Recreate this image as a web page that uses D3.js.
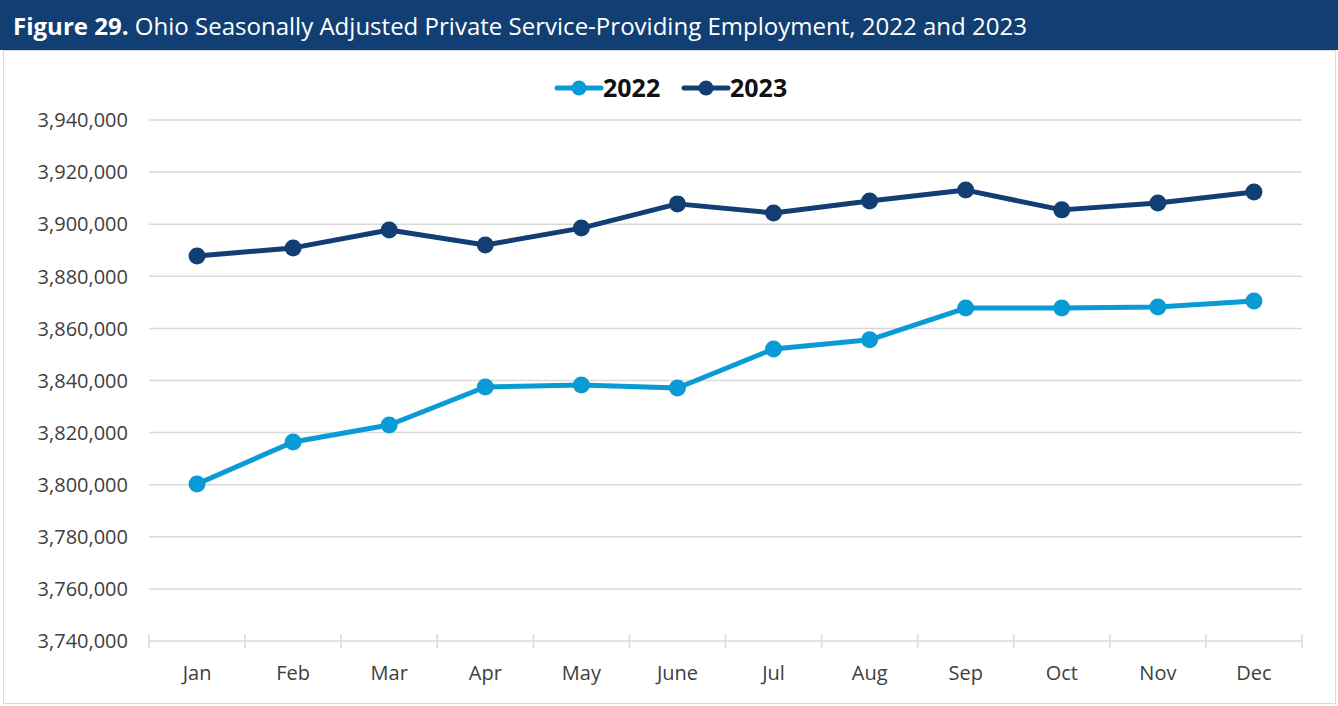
<!DOCTYPE html>
<html>
<head>
<meta charset="utf-8">
<script src="https://cdn.jsdelivr.net/npm/d3@7"></script>
<style>
  html, body { margin: 0; padding: 0; background: #ffffff; }
  svg { display: block; }
</style>
</head>
<body>
<svg id="chart" width="1338" height="706"></svg>
<script>
// Ohio seasonally adjusted private service-providing employment, by month
const months = ["Jan", "Feb", "Mar", "Apr", "May", "June", "Jul", "Aug", "Sep", "Oct", "Nov", "Dec"];
const values2022 = [3800300, 3816400, 3822900, 3837500, 3838300, 3837100, 3852100, 3855600, 3867800, 3867800, 3868200, 3870500];
const values2023 = [3887800, 3890900, 3897800, 3892000, 3898500, 3907800, 3904300, 3908900, 3913100, 3905500, 3908100, 3912400];
const yTicks = [3740000, 3760000, 3780000, 3800000, 3820000, 3840000, 3860000, 3880000, 3900000, 3920000, 3940000];
const seriesNames = ["2022", "2023"];
const seriesColors = ["#0a9ad6", "#123f73"];

const svg = d3.select("#chart");
const W = 1338, H = 706;

// Title banner
svg.append("rect").attr("x", 0).attr("y", 0).attr("width", W).attr("height", 50).attr("fill", "#123f73");
const title = svg.append("text")
  .attr("x", 13).attr("y", 35)
  .attr("fill", "#ffffff")
  .style("font-family", "'Open Sans', sans-serif")
  .style("font-size", "23px");
title.append("tspan").style("font-weight", "bold").text("Figure 29.");
title.append("tspan").text(" Ohio Seasonally Adjusted Private Service-Providing Employment, 2022 and 2023");
// fit the title to its banner width
title.attr("textLength", 1014).attr("lengthAdjust", "spacingAndGlyphs");

// Chart frame
svg.append("rect").attr("x", 3.5).attr("y", 50.5).attr("width", W - 6).attr("height", H - 53)
  .attr("fill", "none").attr("stroke", "#d9d9d9").attr("stroke-width", 1);

const margin = { left: 149, right: 36, top: 120, bottom: 65 };
const x = d3.scaleBand().domain(months).range([margin.left, W - margin.right]);
const y = d3.scaleLinear().domain([3740000, 3940000]).range([H - margin.bottom, margin.top]);

const fmt = d3.format(",");

// Horizontal gridlines
svg.append("g").selectAll("line").data(yTicks.slice(1)).join("line")
  .attr("x1", margin.left).attr("x2", W - margin.right)
  .attr("y1", d => y(d)).attr("y2", d => y(d))
  .attr("stroke", "#d9d9d9").attr("stroke-width", 1.5);

// Y-axis labels
svg.append("g").selectAll("text").data(yTicks).join("text")
  .attr("x", 128).attr("y", d => y(d)).attr("dy", "0.36em")
  .attr("text-anchor", "end")
  .attr("fill", "#404040")
  .style("font-family", "'Open Sans', sans-serif")
  .style("font-size", "20px")
  .text(d => fmt(d));

// X axis
const xAxis = svg.append("g").attr("transform", `translate(0,${y(3740000)})`);
xAxis.append("line").attr("x1", margin.left).attr("x2", W - margin.right)
  .attr("stroke", "#d9d9d9").attr("stroke-width", 1.5);
const boundaries = months.map(m => x(m)).concat([x(months[months.length - 1]) + x.bandwidth()]);
xAxis.selectAll("line.tick").data(boundaries).join("line").attr("class", "tick")
  .attr("x1", d => d).attr("x2", d => d).attr("y1", -7).attr("y2", 7)
  .attr("stroke", "#d9d9d9").attr("stroke-width", 1.5);
xAxis.selectAll("text").data(months).join("text")
  .attr("x", d => x(d) + x.bandwidth() / 2).attr("y", 39)
  .attr("text-anchor", "middle")
  .attr("fill", "#404040")
  .style("font-family", "'Open Sans', sans-serif")
  .style("font-size", "20px")
  .text(d => d);

// Series lines and markers
const line = d3.line().x((d, i) => x(months[i]) + x.bandwidth() / 2).y(d => y(d));
[values2022, values2023].forEach((vals, k) => {
  const g = svg.append("g");
  g.append("path").datum(vals).attr("d", line)
    .attr("fill", "none").attr("stroke", seriesColors[k]).attr("stroke-width", 5)
    .attr("stroke-linejoin", "round");
  g.selectAll("circle").data(vals).join("circle")
    .attr("cx", (d, i) => x(months[i]) + x.bandwidth() / 2)
    .attr("cy", d => y(d))
    .attr("r", 8.5)
    .attr("fill", seriesColors[k]);
});

// Legend
const legendItems = [{ name: seriesNames[0], color: seriesColors[0], x0: 557 }, { name: seriesNames[1], color: seriesColors[1], x0: 684 }];
const lg = svg.append("g");
legendItems.forEach(it => {
  lg.append("line").attr("x1", it.x0).attr("x2", it.x0 + 44).attr("y1", 88).attr("y2", 88)
    .attr("stroke", it.color).attr("stroke-width", 5).attr("stroke-linecap", "round");
  lg.append("circle").attr("cx", it.x0 + 22).attr("cy", 88).attr("r", 7.5).attr("fill", it.color);
  lg.append("text").attr("x", it.x0 + 46).attr("y", 88).attr("dy", "0.36em")
    .attr("fill", "#111111")
    .style("font-family", "'Open Sans', sans-serif")
    .style("font-size", "25px").style("font-weight", "bold")
    .text(it.name);
});
</script>
</body>
</html>
